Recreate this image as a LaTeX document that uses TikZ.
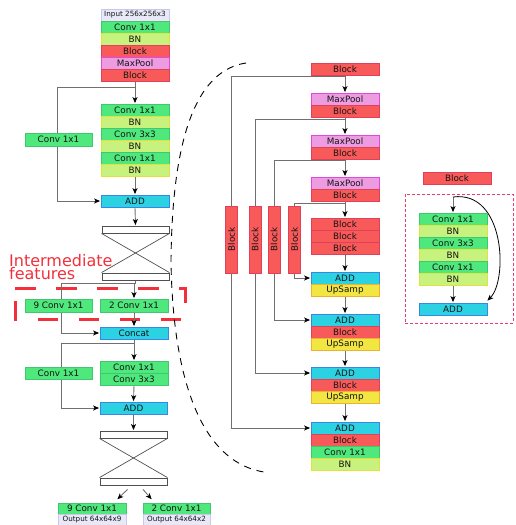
\documentclass[tikz,border=0pt]{standalone}
\usepackage{fontspec}
\setmainfont{DejaVu Sans}
\usepackage{graphicx}
\usetikzlibrary{arrows.meta,backgrounds}
\definecolor{txt}{HTML}{141414}
\definecolor{cgreen}{HTML}{4FE87C}
\definecolor{cgreenb}{HTML}{40C870}
\definecolor{cbn}{HTML}{C8F27E}
\definecolor{cbnb}{HTML}{E2E23C}
\definecolor{cblk}{HTML}{F85A5A}
\definecolor{cblkb}{HTML}{E0405A}
\definecolor{cmp}{HTML}{EE9CE2}
\definecolor{cmpb}{HTML}{E048E0}
\definecolor{cadd}{HTML}{2AD2E2}
\definecolor{caddb}{HTML}{3A86E6}
\definecolor{cups}{HTML}{F2E642}
\definecolor{cupsb}{HTML}{F0B030}
\definecolor{cio}{HTML}{E8E8F8}
\definecolor{ciob}{HTML}{C8C8EC}
\definecolor{lgrey}{HTML}{707070}
\definecolor{hgrey}{HTML}{505050}
\definecolor{ired}{HTML}{F2303C}
\definecolor{dcrim}{HTML}{E0406A}
\begin{document}
\begin{tikzpicture}[x=1pt,y=-1pt,
  every node/.style={text=txt},
  box/.style={draw, rectangle, minimum width=68pt, minimum height=12pt, inner sep=0pt,
    line width=0.8pt, font=\fontsize{8.8}{10}\selectfont},
  side/.style={minimum width=67pt, minimum height=13pt},
  conv/.style={box, fill=cgreen, draw=cgreenb},
  bn/.style={box, fill=cbn, draw=cbnb},
  blk/.style={box, fill=cblk, draw=cblkb},
  mp/.style={box, fill=cmp, draw=cmpb},
  addb/.style={box, fill=cadd, draw=caddb},
  ups/.style={box, fill=cups, draw=cupsb},
  io/.style={box, fill=cio, draw=ciob, font=\fontsize{7.2}{8}\selectfont},
  vblk/.style={box, fill=cblk, draw=cblkb, minimum width=12pt, minimum height=67pt},
  hgbar/.style={draw=hgrey, fill=white, line width=0.9pt, minimum width=67pt, minimum height=7pt, inner sep=0pt},
  hgx/.style={draw=hgrey, line width=0.7pt},
  ln/.style={draw=lgrey, line width=0.9pt},
  arr/.style={ln, -{Stealth[length=6pt,width=5pt,inset=1.5pt,black]}, shorten >=0.5pt},
  carr/.style={draw=black, line width=0.8pt, -{Stealth[length=6pt,width=5pt,inset=1.5pt,black]}},
  bigtxt/.style={anchor=north west, inner sep=0pt, text=ired, align=left, font=\fontsize{16}{12.5}\selectfont}
]
\useasboundingbox (0,0) rectangle (516,525);

% ---------------- left column ----------------
\node[io] (inp) at (135,15) {Input 256x256x3};
\node[conv] (l1) at (135,27) {Conv 1x1};
\node[bn] (l2) at (135,39) {BN};
\node[blk] (l3) at (135,51) {Block};
\node[mp] (l4) at (135,63) {MaxPool};
\node[blk] (l5) at (135,75) {Block};

\coordinate (s1) at (135,87);
\coordinate (b1) at (57.5,87);
\node[conv] (g1) at (135,110) {Conv 1x1};
\node[bn] (g2) at (135,122) {BN};
\node[conv] (g3) at (135,134) {Conv 3x3};
\node[bn] (g4) at (135,146) {BN};
\node[conv] (g5) at (135,158) {Conv 1x1};
\node[bn] (g6) at (135,170) {BN};
\node[conv,side] (sc1) at (58.5,139.5) {Conv 1x1};
\node[addb] (add1) at (135,201) {ADD};

\node[hgbar] (h1t) at (135.5,229.5) {};
\node[hgbar] (h1b) at (135.5,276.5) {};

\node[bigtxt] (it) at (9,254.3) {Intermediate\\features};

\coordinate (s2) at (134,283);
\coordinate (s2l) at (61,283);
\node[conv,side] (c9) at (58.5,305.5) {9 Conv 1x1};
\node[conv,minimum height=13pt] (c2) at (134,305.5) {2 Conv 1x1};
\node[addb] (cat) at (134,333) {Concat};

\coordinate (s3) at (134,343);
\coordinate (s3l) at (61,343);
\node[conv] (k1) at (134,367) {Conv 1x1};
\node[conv] (k2) at (134,379) {Conv 3x3};
\node[conv,side,minimum height=12pt] (sc2) at (58.5,373) {Conv 1x1};
\node[addb,minimum width=67pt] (add2) at (133.5,408) {ADD};

\node[hgbar] (h2t) at (133.5,434.5) {};
\node[hgbar] (h2b) at (133.5,481.5) {};

\node[conv,minimum height=11pt] (o9) at (92,508.5) {9 Conv 1x1};
\node[io,minimum height=11pt] (o9o) at (92,519.5) {Output 64x64x9};
\node[conv,minimum height=11pt,minimum width=67pt] (o2) at (176.5,508.5) {2 Conv 1x1};
\node[io,minimum height=11pt,minimum width=67pt] (o2o) at (176.5,519.5) {Output 64x64x2};

% ---------------- right column ----------------
\node[blk] (r0) at (345,69) {Block};
\node[mp] (r1) at (345,99) {MaxPool};
\node[blk] (r2) at (345,111) {Block};
\node[mp] (r3) at (345,141) {MaxPool};
\node[blk] (r4) at (345,153) {Block};
\node[mp] (r5) at (345,183) {MaxPool};
\node[blk] (r6) at (345,195) {Block};
\node[blk] (r7) at (345,224) {Block};
\node[blk] (r8) at (345,236) {Block};
\node[blk] (r9) at (345,248) {Block};
\node[addb] (a1) at (345,278) {ADD};
\node[ups] (u1) at (345,290) {UpSamp};
\node[addb] (a2) at (345,320) {ADD};
\node[blk] (r10) at (345,332) {Block};
\node[ups] (u2) at (345,344) {UpSamp};
\node[addb] (a3) at (345,373) {ADD};
\node[blk] (r11) at (345,385) {Block};
\node[ups] (u3) at (345,397) {UpSamp};
\node[addb] (a4) at (345,428) {ADD};
\node[blk] (r12) at (345,440) {Block};
\node[conv] (r13) at (345,452) {Conv 1x1};
\node[bn] (r14) at (345,464) {BN};

\node[vblk] (v1) at (231.5,239.5) {\rotatebox{90}{Block}};
\node[vblk] (v2) at (255,239.5) {\rotatebox{90}{Block}};
\node[vblk] (v3) at (274,239.5) {\rotatebox{90}{Block}};
\node[vblk] (v4) at (294.5,239.5) {\rotatebox{90}{Block}};

\coordinate (t1) at (345,76);
\coordinate (t2) at (345,119);
\coordinate (t3) at (345,160);
\coordinate (t4) at (345,203);

% ---------------- block detail ----------------
\node[blk] (dblk) at (457,178) {Block};
\node[draw=dcrim, dash pattern=on 3pt off 2pt, line width=0.7pt, minimum width=108pt, minimum height=129pt, inner sep=0pt] (dframe) at (459,258.5) {};
\coordinate (dtop) at (453,197);
\node[conv] (d1) at (453,219) {Conv 1x1};
\node[bn] (d2) at (453,231) {BN};
\node[conv] (d3) at (453,243) {Conv 3x3};
\node[bn] (d4) at (453,255) {BN};
\node[conv] (d5) at (453,267) {Conv 1x1};
\node[bn] (d6) at (453,279) {BN};
\node[addb] (dadd) at (453,309) {ADD};

% ---------------- connectors (behind boxes) ----------------
\begin{pgfonlayer}{background}
  % intermediate features frame
  \draw[ired, line width=3pt, dash pattern=on 20.5pt off 20.5pt]
    (15,288) -- (185,288) -- (185,319) -- (15,319) -- cycle;
  % zoom curve
  \draw[black, line width=0.9pt, dash pattern=on 7pt off 6pt]
    (246,63) .. controls (185,72) and (172,170) .. (171,260)
    .. controls (172,350) and (190,460) .. (264,472);

  \draw[ln] (l5.south) -- (s1);
  \draw[arr] (s1) -- (g1.north);
  \draw[arr] (s1) -- (b1) |- (add1.west);
  \draw[arr] (g6.south) -- (add1.north);
  \draw[arr] (add1.south) -- (h1t.north);
  \draw[hgx] (h1t.south west) -- (h1b.north east);
  \draw[hgx] (h1t.south east) -- (h1b.north west);

  \draw[ln] (h1b.south) |- (s2);
  \draw[arr] (s2) -- (c2.north);
  \draw[arr] (s2) -- (s2l) |- (cat.west);
  \draw[arr] (c2.south) -- (cat.north);

  \draw[ln] (cat.south) -- (s3);
  \draw[arr] (s3) -- (k1.north);
  \draw[arr] (s3) -- (s3l) |- (add2.west);
  \draw[arr] (k2.south) -- (add2.north);
  \draw[arr] (add2.south) -- (h2t.north);
  \draw[hgx] (h2t.south west) -- (h2b.north east);
  \draw[hgx] (h2t.south east) -- (h2b.north west);

  \draw[arr] ([shift={(-6,4)}]h2b.south) -- ([shift={(25,-3)}]o9.north);
  \draw[arr] ([shift={(9.5,4)}]h2b.south) -- ([shift={(-24.5,-3)}]o2.north);

  % right column
  \draw[ln] (r0.south) -- (t1);
  \draw[arr] (v1.north) |- (t1) -- (r1.north);
  \draw[ln] (r2.south) -- (t2);
  \draw[arr] (v2.north) |- (t2) -- (r3.north);
  \draw[ln] (r4.south) -- (t3);
  \draw[arr] (v3.north) |- (t3) -- (r5.north);
  \draw[ln] (r6.south) -- (t4);
  \draw[arr] (v4.north) |- (t4) -- (r7.north);
  \draw[arr] (r9.south) -- (a1.north);
  \draw[arr] (v4.south) |- (a1.west);
  \draw[arr] (u1.south) -- (a2.north);
  \draw[arr] (v3.south) |- (a2.west);
  \draw[arr] (u2.south) -- (a3.north);
  \draw[arr] (v2.south) |- (a3.west);
  \draw[arr] (u3.south) -- (a4.north);
  \draw[arr] (v1.south) |- (a4.west);

  % detail
  \draw[arr] (dtop) -- (d1.north);
  \draw[arr] (d6.south) -- (dadd.north);
  \draw[carr] (dtop) .. controls (505,190) and (508,280) .. ([shift={(0,-2)}]dadd.north east);
\end{pgfonlayer}
\end{tikzpicture}
\end{document}
